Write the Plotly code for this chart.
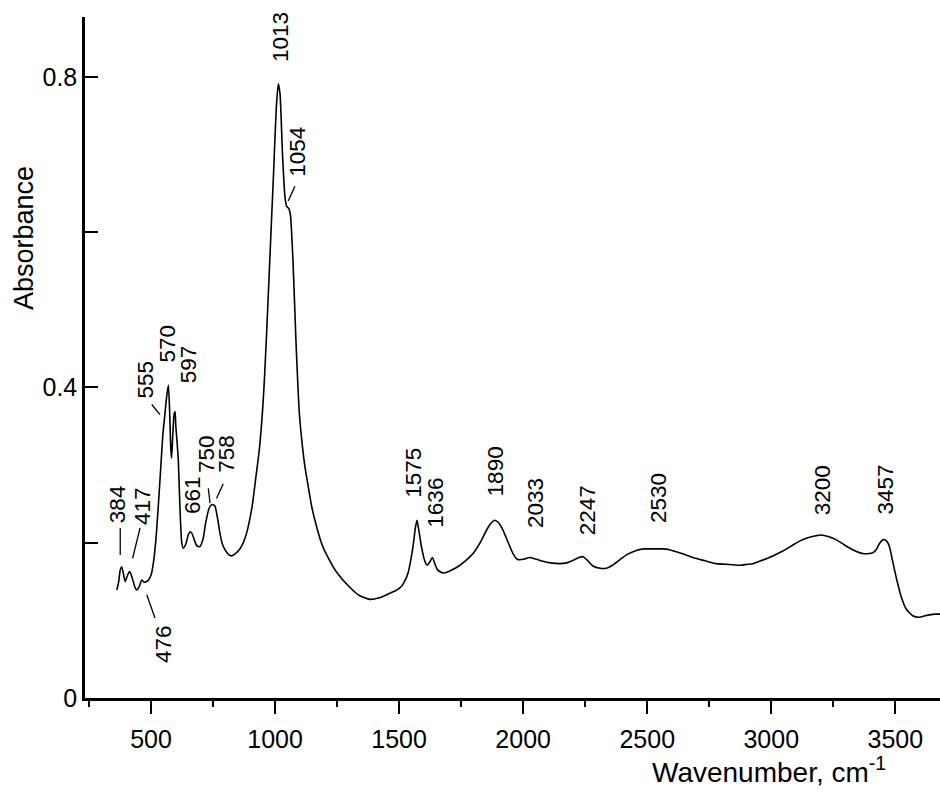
import plotly.graph_objects as go

# ---- spectrum (wavenumber, absorbance) ----
wavenumber = [362, 370, 376, 382, 390, 396, 405, 414, 424, 435, 442, 452, 463, 472, 482, 490,
              500, 510, 520, 530, 540, 548, 555, 562, 570, 575, 580, 583, 588, 593, 597, 600,
              605, 610, 617, 624, 630, 640, 650, 657, 665, 675, 685, 697, 710, 720, 735, 745,
              751, 758, 768, 778, 788, 798, 812, 825, 840, 858, 872, 885, 898, 910, 923, 937,
              950, 957, 966, 976, 985, 994, 1005, 1013, 1020, 1030, 1040, 1047, 1056, 1062,
              1072, 1085, 1098, 1110, 1120, 1135, 1148, 1168, 1190, 1215, 1246, 1300, 1340,
              1382, 1420, 1463, 1490, 1510, 1525, 1536, 1546, 1556, 1566, 1572, 1580, 1590,
              1605, 1613, 1625, 1634, 1645, 1655, 1677, 1700, 1731, 1765, 1798, 1830, 1852,
              1870, 1885, 1900, 1919, 1940, 1959, 1975, 1986, 2005, 2026, 2050, 2080, 2110,
              2147, 2175, 2200, 2225, 2241, 2260, 2281, 2310, 2335, 2360, 2389, 2420, 2456,
              2490, 2523, 2560, 2590, 2640, 2684, 2730, 2778, 2830, 2873, 2900, 2926, 2960,
              3006, 3050, 3087, 3120, 3154, 3180, 3201, 3230, 3261, 3295, 3328, 3369, 3395,
              3409, 3425, 3436, 3452, 3465, 3476, 3490, 3503, 3513, 3523, 3543, 3570, 3597,
              3620, 3637, 3660, 3680]
absorbance = [0.139, 0.150, 0.165, 0.169, 0.158, 0.150, 0.158, 0.163, 0.155, 0.143, 0.139, 0.143,
              0.152, 0.149, 0.150, 0.152,
              0.158, 0.175, 0.205, 0.250, 0.300, 0.340, 0.362, 0.385, 0.403, 0.370, 0.320, 0.309,
              0.340, 0.365, 0.369, 0.350,
              0.330, 0.307, 0.242, 0.200, 0.193, 0.198, 0.210, 0.214, 0.212, 0.203, 0.196, 0.195,
              0.205, 0.225, 0.245, 0.249,
              0.249, 0.247, 0.232, 0.212, 0.198, 0.191, 0.185, 0.183, 0.186, 0.192, 0.200, 0.212,
              0.230, 0.252, 0.285, 0.321,
              0.372, 0.410, 0.470, 0.543, 0.610, 0.676, 0.760, 0.791, 0.778, 0.700, 0.645, 0.633,
              0.630, 0.622,
              0.565, 0.454, 0.366, 0.325, 0.299, 0.270, 0.246, 0.220, 0.197, 0.180, 0.163, 0.143,
              0.132,
              0.127, 0.129, 0.135, 0.139, 0.144, 0.152, 0.161, 0.176, 0.195, 0.220, 0.229, 0.215,
              0.195,
              0.175, 0.171, 0.176, 0.181, 0.172, 0.165, 0.161, 0.163, 0.168, 0.176, 0.186, 0.202,
              0.216,
              0.225, 0.229, 0.226, 0.216, 0.200, 0.186, 0.179, 0.178, 0.179, 0.181, 0.179, 0.176,
              0.174,
              0.173, 0.174, 0.177, 0.181, 0.182, 0.177, 0.170, 0.167, 0.167, 0.171, 0.178, 0.185,
              0.190,
              0.192, 0.192, 0.192, 0.191, 0.186, 0.181, 0.177, 0.173, 0.172, 0.171, 0.172, 0.173,
              0.177,
              0.183, 0.190, 0.197, 0.203, 0.207, 0.209, 0.210, 0.208, 0.204, 0.197, 0.191, 0.186,
              0.186,
              0.187, 0.192, 0.199, 0.204, 0.202, 0.195, 0.175, 0.156, 0.143, 0.131, 0.115, 0.106,
              0.104,
              0.106, 0.107, 0.108, 0.108]

# ---- peak labels (text, centre position in data units) ----
peak_labels = ["384", "417", "476", "555", "570", "597", "661", "750", "758", "1013", "1054",
               "1575", "1636", "1890", "2033", "2247", "2530", "3200", "3457"]
label_x = [365, 463, 550, 479, 566, 650, 667, 721, 805, 1019, 1087,
           1560, 1646, 1887, 2047, 2258, 2546, 3210, 3460]
label_y = [0.249, 0.247, 0.070, 0.410, 0.457, 0.430, 0.262, 0.314, 0.314, 0.851, 0.703,
           0.290, 0.252, 0.292, 0.251, 0.242, 0.257, 0.268, 0.269]

# ---- leader lines (x0, y0, x1, y1) ----
leader_x0 = [376, 456, 483, 503, 731, 791, 1080]
leader_y0 = [0.219, 0.219, 0.133, 0.378, 0.270, 0.276, 0.659]
leader_x1 = [376, 426, 516, 536, 738, 764, 1053]
leader_y1 = [0.184, 0.180, 0.103, 0.365, 0.251, 0.257, 0.640]

# ---- axes ----
x_range = [234, 3680]
y_range = [0, 0.877]
x_tickvals = [500, 1000, 1500, 2000, 2500, 3000, 3500]
y_tickvals = [0, 0.4, 0.8]
y_ticktext = ["0", "0.4", "0.8"]

FONT = "Arial, Liberation Sans, sans-serif"

fig = go.Figure()
fig.add_trace(go.Scatter(x=wavenumber, y=absorbance, mode="lines",
                         line=dict(color="black", width=1.6, shape="spline", smoothing=0.6),
                         hoverinfo="skip", showlegend=False))

for t, lx, ly in zip(peak_labels, label_x, label_y):
    fig.add_annotation(x=lx, y=ly, xref="x", yref="y", text=t, textangle=-90,
                       showarrow=False, xanchor="center", yanchor="middle",
                       font=dict(family=FONT, size=22.5, color="black"))

for x0, y0, x1, y1 in zip(leader_x0, leader_y0, leader_x1, leader_y1):
    fig.add_shape(type="line", xref="x", yref="y", x0=x0, y0=y0, x1=x1, y1=y1,
                  line=dict(color="black", width=1.3))

fig.add_annotation(xref="paper", yref="paper", x=0.939, y=-0.106, xanchor="right",
                   yanchor="middle", showarrow=False,
                   text="Wavenumber, cm<sup>-1</sup>",
                   font=dict(family=FONT, size=28, color="black"))
fig.add_annotation(xref="paper", yref="paper", x=-0.072, y=0.676, xanchor="center",
                   yanchor="middle", showarrow=False, textangle=-90,
                   text="Absorbance",
                   font=dict(family=FONT, size=27, color="black"))

fig.update_layout(
    width=940, height=794,
    margin=dict(l=85, r=0, t=17, b=96),
    paper_bgcolor="white", plot_bgcolor="white",
    font=dict(family=FONT, color="black"),
    xaxis=dict(range=x_range, showgrid=False, zeroline=False, showline=True,
               linecolor="black", linewidth=2.5, ticks="outside", ticklen=13,
               tickwidth=2, tickcolor="black", tickvals=x_tickvals,
               tickfont=dict(family=FONT, size=25, color="black"),
               ticklabelstandoff=4,
               minor=dict(dtick=250, tick0=0, ticks="outside", ticklen=6,
                          tickwidth=2, tickcolor="black", showgrid=False)),
    yaxis=dict(range=y_range, showgrid=False, zeroline=False, showline=True,
               linecolor="black", linewidth=2.5, ticks="inside", ticklen=13,
               tickwidth=2, tickcolor="black", tickvals=y_tickvals, ticktext=y_ticktext,
               tickfont=dict(family=FONT, size=25, color="black"),
               minor=dict(dtick=0.2, tick0=0, ticks="inside", ticklen=13,
                          tickwidth=2, tickcolor="black", showgrid=False)),
)

fig.write_html("out.html")
